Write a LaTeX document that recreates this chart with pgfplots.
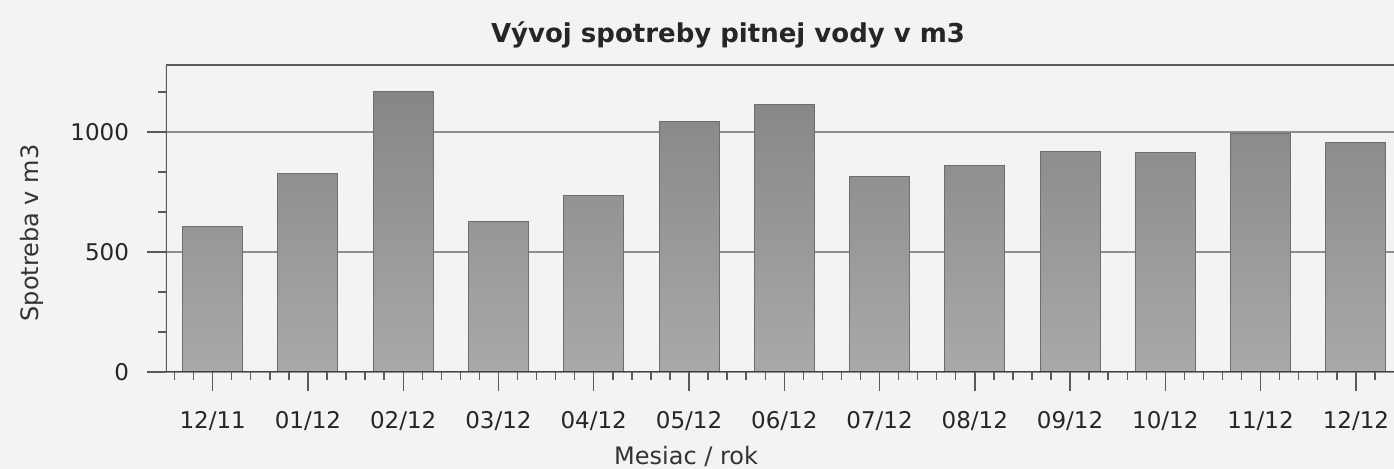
\documentclass[border=0pt]{standalone}
\usepackage{fontspec}
\setmainfont{DejaVu Sans}
\usepackage{pgfplots}
\pgfplotsset{compat=1.18}
\definecolor{bg}{HTML}{F3F3F3}
\definecolor{barTop}{HTML}{868686}
\definecolor{barBot}{HTML}{A9A9A9}
\definecolor{barEdge}{HTML}{6E6E6E}
\definecolor{gridc}{HTML}{8E8E8E}
\definecolor{axc}{HTML}{5A5A5A}
\begin{document}
\begin{tikzpicture}
\useasboundingbox[fill=bg] (0,0) rectangle (697pt,234.5pt);
\begin{axis}[
  at={(83pt,48.5pt)}, anchor=south west, scale only axis,
  width=614pt, height=153.5pt,
  xmin=-0.49, xmax=12.4, ymin=0, ymax=1280,
  axis line style={draw=none},
  xtick={0,1,2,3,4,5,6,7,8,9,10,11,12},
  xticklabels={12/11,01/12,02/12,03/12,04/12,05/12,06/12,07/12,08/12,09/12,10/12,11/12,12/12},
  minor xtick={-0.4,-0.2,0.2,0.4,0.6,0.8,1.2,1.4,1.6,1.8,2.2,2.4,2.6,2.8,3.2,3.4,3.6,3.8,4.2,4.4,4.6,4.8,5.2,5.4,5.6,5.8,6.2,6.4,6.6,6.8,7.2,7.4,7.6,7.8,8.2,8.4,8.6,8.8,9.2,9.4,9.6,9.8,10.2,10.4,10.6,10.8,11.2,11.4,11.6,11.8,12.2},
  ytick={0,500,1000},
  minor ytick={166.67,333.33,666.67,833.33,1166.67},
  tick align=outside,
  major tick length=9.5pt, minor tick length=3.8pt,
  every tick/.style={axc, line width=0.7pt},
  xtick pos=bottom, ytick pos=left,
  ymajorgrids, grid style={gridc, line width=0.8pt},
  /pgf/number format/assume math mode=true,
  /pgf/number format/set thousands separator={},
  ticklabel style={font=\fontsize{11.5}{13}\selectfont, black!85},
  xticklabel style={anchor=base, yshift=-19pt},
  yticklabel style={anchor=east, xshift=-5.5pt},
  xlabel={Mesiac / rok},
  xlabel style={at={(axis description cs:0.4235,-0.300)}, anchor=base, font=\fontsize{12}{14}\selectfont, black!80},
  ylabel={Spotreba v m3},
  ylabel style={at={(axis description cs:-0.109,0.453)}, anchor=center, font=\fontsize{12}{14}\selectfont, black!80},
  every axis title shift=0pt,
  title={Vývoj spotreby pitnej vody v m3},
  title style={at={(axis description cs:0.4577,1.0717)}, anchor=base, font=\bfseries\fontsize{13}{15}\selectfont, black!85},
]
\addplot[ybar, bar width=0.63, draw=barEdge, line width=0.5pt, top color=barTop, bottom color=barBot]
  coordinates {(0,605) (1,826) (2,1168) (3,628) (4,734) (5,1045) (6,1117) (7,817) (8,861) (9,920) (10,917) (11,995) (12,955)};
\draw[axc, line width=1.3pt] (rel axis cs:0,1) -- (rel axis cs:1,1);
\draw[axc, line width=0.8pt] (rel axis cs:0,0) -- (rel axis cs:0,1);
\draw[black!75, line width=0.9pt] (rel axis cs:0,0) -- (rel axis cs:1,0);
\end{axis}
\end{tikzpicture}
\end{document}
